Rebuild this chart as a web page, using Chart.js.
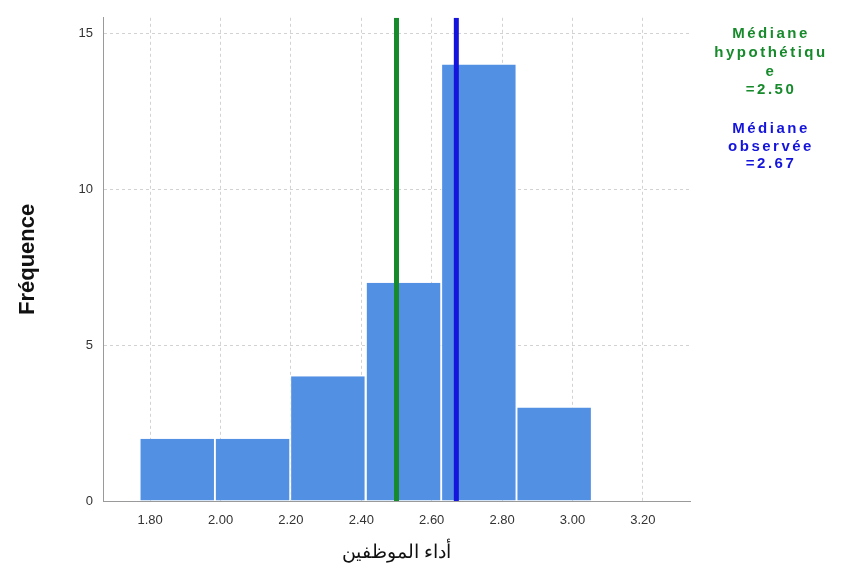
<!DOCTYPE html>
<html>
<head>
<meta charset="utf-8">
<script src="https://cdn.jsdelivr.net/npm/chart.js@4"></script>
<style>
  html, body { margin: 0; padding: 0; background: #fff; }
  #wrap { width: 852px; height: 570px; }
</style>
</head>
<body>
<div id="wrap"><canvas id="histo"></canvas></div>
<script>
// values
const binCenters = [1.877, 2.091, 2.305, 2.520, 2.734, 2.948];
const frequencies = [2, 2, 4, 7, 14, 3];
const binWidth = 0.2143;
const xTickValues = [1.8, 2.0, 2.2, 2.4, 2.6, 2.8, 3.0, 3.2];
const yTickValues = [0, 5, 10, 15];
const hypoMedian = 2.50;
const observedMedian = 2.67;
const legendLines = [
    ["Médiane", "#178a2c"], ["hypothétiqu", "#178a2c"], ["e", "#178a2c"], ["=2.50", "#178a2c"],
    ["Médiane", "#1414dc"], ["observée", "#1414dc"], ["=2.67", "#1414dc"]
];
const legendY = [34, 53, 72, 90, 129, 147, 164];

const xMin = 1.666, xMax = 3.334, yMax = 15.5;
const tickStep = 0.2;
const fontFamily = "'Liberation Sans', Arial, sans-serif";

const medianLabels = {
    id: "medianLabels",
    afterDraw(chart) {
        const ctx = chart.ctx;
        ctx.save();
        ctx.font = "bold 15px " + fontFamily;
        ctx.letterSpacing = "2.5px";
        ctx.textAlign = "center";
        ctx.textBaseline = "middle";
        legendLines.forEach((line, i) => {
            ctx.fillStyle = line[1];
            ctx.fillText(line[0], 771, legendY[i]);
        });
        ctx.restore();
    }
};

new Chart(document.getElementById("histo"), {
    data: {
        datasets: [{
            type: "bar",
            label: "Fréquence",
            data: binCenters.map((x, i) => ({ x: x, y: frequencies[i] })),
            backgroundColor: "#5290e3",
            borderColor: "#ffffff",
            borderWidth: { left: 1, right: 1, top: 0, bottom: 0 },
            borderSkipped: false,
            categoryPercentage: 1,
            barPercentage: binWidth / tickStep,
            order: 2
        }, {
            type: "line",
            label: "Médiane hypothétique",
            data: [{ x: hypoMedian, y: 0 }, { x: hypoMedian, y: yMax }],
            borderColor: "#178a2c",
            borderWidth: 5,
            pointRadius: 0,
            order: 1
        }, {
            type: "line",
            label: "Médiane observée",
            data: [{ x: observedMedian, y: 0 }, { x: observedMedian, y: yMax }],
            borderColor: "#1414dc",
            borderWidth: 5,
            pointRadius: 0,
            order: 1
        }]
    },
    options: {
        responsive: true,
        maintainAspectRatio: false,
        animation: false,
        layout: { padding: { top: 17, right: 162, left: 0, bottom: 0 } },
        plugins: {
            legend: { display: false },
            tooltip: { enabled: false }
        },
        scales: {
            x: {
                type: "linear",
                min: xMin,
                max: xMax,
                offset: false,
                afterBuildTicks: s => { s.ticks = xTickValues.map(v => ({ value: v })); },
                afterFit: s => { s.height = 69; },
                ticks: {
                    callback: v => v.toFixed(2),
                    font: { family: fontFamily, size: 13 },
                    color: "#333",
                    padding: 12,
                    autoSkip: false,
                    maxRotation: 0
                },
                grid: { color: "#d2d2d2", drawTicks: false, offset: false },
                border: { color: "#9a9a9a", dash: [3, 3] },
                title: {
                    display: true,
                    text: "أداء الموظفين",
                    font: { family: fontFamily, size: 19 },
                    color: "#111",
                    padding: { top: 0, bottom: 6 }
                }
            },
            y: {
                min: 0,
                max: yMax,
                afterBuildTicks: s => { s.ticks = yTickValues.map(v => ({ value: v })); },
                afterFit: s => { s.width = 103; },
                ticks: {
                    font: { family: fontFamily, size: 13 },
                    color: "#333",
                    padding: 10
                },
                grid: { color: "#d2d2d2", drawTicks: false },
                border: { color: "#9a9a9a", dash: [3, 3] },
                title: {
                    display: true,
                    text: "Fréquence",
                    font: { family: fontFamily, size: 22, weight: "bold" },
                    color: "#111",
                    padding: { top: 15, bottom: 0 }
                }
            }
        }
    },
    plugins: [medianLabels]
});
</script>
</body>
</html>
